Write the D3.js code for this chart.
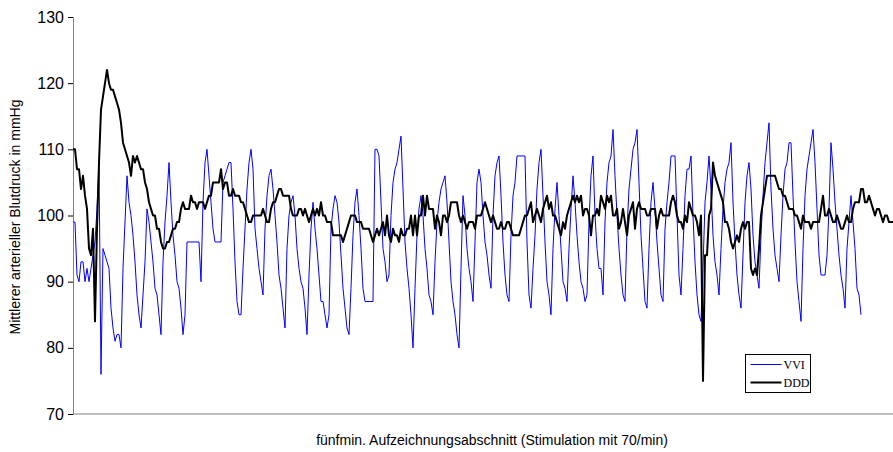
<!DOCTYPE html>
<html>
<head>
<meta charset="utf-8">
<script src="https://cdn.jsdelivr.net/npm/d3@7"></script>
<style>
  html, body { margin: 0; padding: 0; background: #ffffff; }
  svg { display: block; }
</style>
</head>
<body>
<svg id="chart" width="893" height="452"></svg>
<script>
// Mean arterial pressure per sample over a five-minute recording, VVI vs. DDD pacing
const vvi = [
  99,99,91,90,93,93,90,92,90,92,
  94,96,101,108,76,95,94,93,92,86,
  83,81,82,82,80,92,99,106,102,100,
  97,93,88,85,83,88,93,101,99,96,
  93,89,88,85,82,93,99,103,108,102,
  97,94,90,89,86,82,85,96,96,96,
  96,96,96,96,90,102,108,110,106,102,
  98,96,96,96,96,105,106,107,108,108,
  101,93,87,85,85,92,98,104,108,110,
  107,98,95,92,90,88,98,103,106,107,
  104,100,96,91,89,86,83,95,100,102,
  103,100,95,92,90,89,86,82,91,98,
  102,98,95,91,87,87,85,83,85,98,
  101,103,102,99,94,89,86,83,82,89,
  97,102,104,100,95,89,87,87,87,87,
  87,110,110,109,102,95,93,90,91,100,
  105,107,108,110,112,104,96,92,89,85,
  80,89,97,101,103,100,95,92,88,87,
  85,93,99,102,104,105,106,102,96,90,
  87,85,82,80,92,103,100,95,92,90,
  87,96,105,107,105,100,96,94,91,89,
  100,106,108,109,103,96,91,88,87,97,
  103,105,109,109,109,109,109,96,88,86,
  92,97,104,108,110,103,96,90,88,85,
  95,101,105,100,95,90,89,87,95,101,
  106,102,97,93,90,89,87,88,99,106,
  109,100,95,92,92,88,99,105,108,109,
  113,106,100,95,91,88,87,98,104,107,
  110,111,113,105,97,92,87,86,95,102,
  105,101,96,92,88,87,98,102,105,109,
  109,109,100,91,88,95,103,107,107,109,
  100,93,88,85,84,92,102,105,109,104,
  97,93,91,88,95,101,105,107,108,111,
  102,96,91,88,86,94,102,106,108,104,
  97,93,91,89,97,103,108,111,114,104,
  98,94,92,90,97,103,107,108,111,111,
  103,96,90,87,84,95,103,107,109,111,
  113,108,101,94,91,91,91,94,101,111,
  107,102,98,94,91,89,86,95,99,103,
  99,95,89,88,85
];

const ddd = [
  110,110,107,107,104,106,103,101,95,94,
  98,84,98,108,116,118,120,122,120,119,
  119,118,117,116,114,111,110,109,108,106,
  109,108,109,108,107,107,105,104,102,101,
  100,100,98,98,96,95,95,96,96,97,
  98,98,99,99,101,102,101,101,101,103,
  102,102,101,102,102,102,101,102,103,103,
  105,105,105,105,107,104,105,105,103,103,
  104,103,103,103,102,102,101,100,99,99,
  100,100,100,100,100,101,100,99,99,101,
  102,102,103,104,104,103,103,103,103,101,
  100,100,100,101,101,100,101,100,99,100,
  101,100,101,100,102,100,100,99,99,99,
  97,97,97,97,97,96,97,98,99,100,
  100,100,99,99,99,98,98,98,98,97,
  96,97,98,97,98,99,97,100,97,96,
  98,97,97,96,98,97,97,98,98,100,
  97,100,97,100,100,103,100,103,101,101,
  101,98,100,99,97,100,100,99,100,102,
  102,102,102,100,99,100,99,98,99,99,
  99,98,100,100,100,101,102,101,100,99,
  100,99,98,98,99,98,98,99,99,98,
  97,97,97,97,98,99,100,100,101,102,
  99,100,101,100,99,101,102,103,101,102,
  100,100,99,98,97,99,98,100,101,102,
  103,102,103,102,103,100,101,101,100,97,
  100,100,101,100,103,102,101,103,102,103,
  100,100,101,98,99,101,99,97,100,101,
  102,98,101,102,101,101,101,100,100,101,
  101,101,98,100,101,100,100,100,100,102,
  103,102,100,99,99,98,100,99,102,101,
  100,100,99,97,100,75,94,94,100,101,
  108,106,105,104,103,102,99,99,98,96,
  95,96,97,96,98,99,98,99,99,92,
  91,92,91,95,100,102,104,106,106,106,
  106,106,105,104,104,103,103,102,101,101,
  101,100,100,99,98,100,99,99,99,98,
  99,99,99,99,101,103,100,100,101,100,
  99,99,100,99,98,98,99,100,99,99,
  101,102,102,102,104,104,102,102,103,102,
  101,100,101,101,100,99,100,100,99,99,
  99
];

const seriesNames = ["VVI", "DDD"];
const yTicks = [70, 80, 90, 100, 110, 120, 130];
const yTitle = "Mittlerer arterieller Blutdruck in mmHg";
const xTitle = "fünfmin. Aufzeichnungsabschnitt (Stimulation mit 70/min)";

const svg = d3.select("#chart");
const plot = { left: 73, right: 893, top: 17, bottom: 414 };

const x = d3.scaleLinear().domain([0, ddd.length - 1]).range([plot.left, plot.right]);
const y = d3.scaleLinear().domain([70, 130]).range([plot.bottom, plot.top]);

const axisColor = "#808080";
const sans = "'Liberation Sans', Arial, sans-serif";

// Y axis with outward ticks
const yAxis = svg.append("g")
  .attr("transform", `translate(${plot.left},0)`)
  .call(d3.axisLeft(y).tickValues(yTicks).tickSize(5).tickPadding(4).tickFormat(d3.format("d")));
yAxis.select(".domain").attr("stroke", axisColor).attr("stroke-width", 1);
yAxis.selectAll(".tick line").attr("stroke", "#000").attr("stroke-width", 1);
yAxis.selectAll(".tick text")
  .attr("font-family", sans).attr("font-size", 16).attr("fill", "#000");

// X axis baseline
svg.append("line")
  .attr("x1", plot.left).attr("x2", plot.right)
  .attr("y1", y(70)).attr("y2", y(70))
  .attr("stroke", axisColor).attr("stroke-width", 1);

// Lines
const line = d3.line().x((d, i) => x(i)).y(d => y(d)).curve(d3.curveLinear);

svg.append("path")
  .datum(vvi)
  .attr("d", line)
  .attr("fill", "none")
  .attr("stroke", "#0000ff")
  .attr("stroke-width", 1)
  .attr("stroke-linejoin", "round");

svg.append("path")
  .datum(ddd)
  .attr("d", line)
  .attr("fill", "none")
  .attr("stroke", "#000000")
  .attr("stroke-width", 2)
  .attr("stroke-linejoin", "round");

// Axis titles
svg.append("text")
  .attr("transform", "translate(20,217) rotate(-90)")
  .attr("text-anchor", "middle")
  .attr("font-family", sans).attr("font-size", 14)
  .text(yTitle);

svg.append("text")
  .attr("x", 492)
  .attr("y", 445)
  .attr("text-anchor", "middle")
  .attr("font-family", sans).attr("font-size", 14)
  .text(xTitle);

// Legend
const legend = svg.append("g").attr("transform", "translate(745.5,354.5)");
legend.append("rect")
  .attr("width", 65).attr("height", 38)
  .attr("fill", "#fff").attr("stroke", "#000").attr("stroke-width", 1);
const legendStyles = [
  { color: "#0000ff", width: 1 },
  { color: "#000000", width: 2 }
];
seriesNames.forEach((name, i) => {
  const gy = 10 + i * 18;
  legend.append("line")
    .attr("x1", 5).attr("x2", 36).attr("y1", gy).attr("y2", gy)
    .attr("stroke", legendStyles[i].color).attr("stroke-width", legendStyles[i].width);
  legend.append("text")
    .attr("x", 38).attr("y", gy + 4)
    .attr("font-family", "'Liberation Serif', 'Times New Roman', serif")
    .attr("font-size", 12)
    .text(name);
});
</script>
</body>
</html>
